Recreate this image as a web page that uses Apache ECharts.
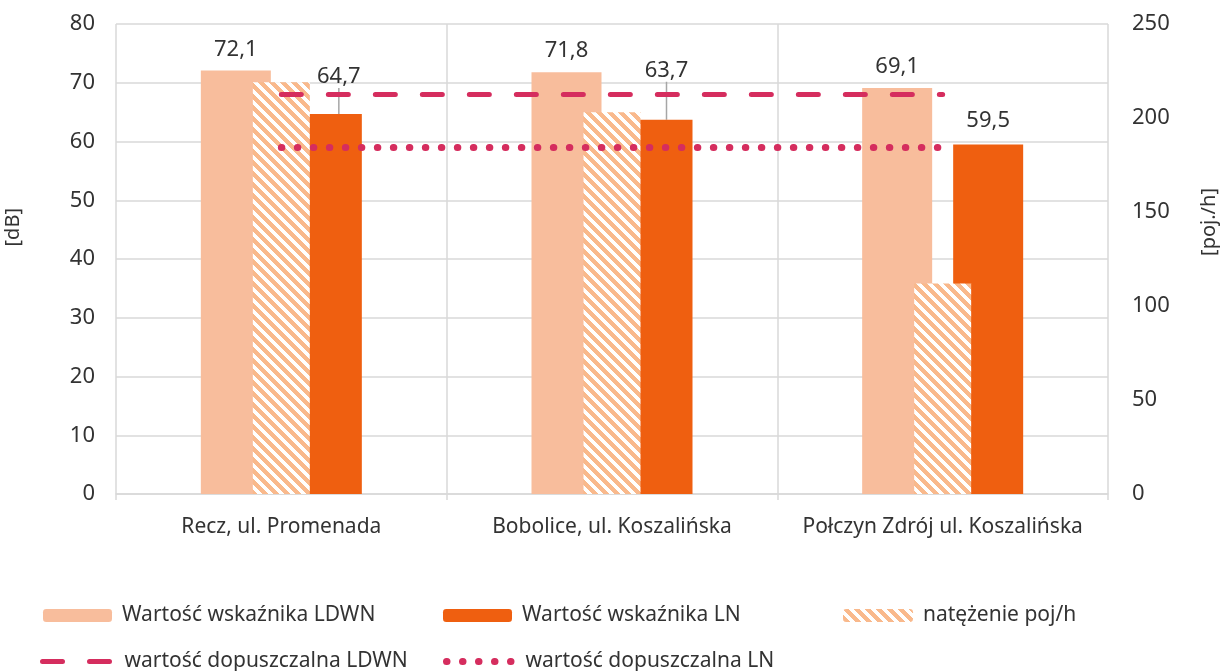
<!DOCTYPE html>
<html>
<head>
<meta charset="utf-8">
<script src="https://cdn.jsdelivr.net/npm/echarts@6/dist/echarts.min.js"></script>
<style>
html,body{margin:0;padding:0;background:#fff;}
#chart{width:1227px;height:671px;}
</style>
</head>
<body>
<div id="chart"></div>
<script>
// ---- data ----
var categories = ['Recz, ul. Promenada', 'Bobolice, ul. Koszalińska', 'Połczyn Zdrój ul. Koszalińska'];
var ldwn = [72.1, 71.8, 69.1];
var ln = [64.7, 63.7, 59.5];
var traffic = [219, 203, 112];
var limitLdwn = [68, 68, 68];
var limitLn = [59, 59, 59];
var leftTicks = {min: 0, max: 80, interval: 10};
var rightTicks = {min: 0, max: 250, interval: 50};
var names = ['Wartość wskaźnika LDWN', 'Wartość wskaźnika LN', 'natężenie poj/h', 'wartość dopuszczalna LDWN', 'wartość dopuszczalna LN'];

// ---- style ----
var FONT = 'Noto Sans';
var TXT = '#333333';
var C_LDWN = '#F8BD9C';
var C_LN = '#EF5F10';
var C_STRIPE = '#F9B98C';
var C_LIMIT = '#D52D5E';
var GRIDC = '#D9D9D9';

// hatch pattern
var P = 11;
var pc = document.createElement('canvas');
pc.width = P; pc.height = P;
var pctx = pc.getContext('2d');
var img = pctx.createImageData(P, P);
function hex(c){return [parseInt(c.substr(1,2),16),parseInt(c.substr(3,2),16),parseInt(c.substr(5,2),16)];}
var sc = hex(C_STRIPE);
for (var y = 0; y < P; y++) {
  for (var x = 0; x < P; x++) {
    var i = (y * P + x) * 4;
    var on = (((x - y) % P) + P) % P < 6;
    img.data[i] = on ? sc[0] : 255;
    img.data[i+1] = on ? sc[1] : 255;
    img.data[i+2] = on ? sc[2] : 255;
    img.data[i+3] = 255;
  }
}
pctx.putImageData(img, 0, 0);
var hatch = {image: pc, repeat: 'repeat'};

function fmt(p){ return p.value.toFixed(1).replace('.', ','); }

var chart = echarts.init(document.getElementById('chart'), null, {renderer: 'canvas'});

function legend(name, left, top, w, h, extra) {
  var l = {
    data: [name], left: left, top: top, padding: 0,
    itemWidth: w, itemHeight: h, selectedMode: false,
    textStyle: {fontFamily: FONT, fontSize: 21, color: TXT, padding: [0, 0, 0, 5]}
  };
  if (extra) for (var k in extra) l[k] = extra[k];
  return l;
}

var lnData = ln.map(function(v, i){
  return i < 2 ? {value: v, labelLine: {show: true}} : {value: v};
});

var option = {
  animation: false,
  backgroundColor: '#fff',
  grid: {left: 116, right: 119, top: 24, bottom: 177, containLabel: false},
  legend: [
    legend(names[0], 43, 605, 69, 13),
    legend(names[1], 443, 605, 69, 13),
    legend(names[2], 843, 605, 70, 13),
    legend(names[3], 40, 651, 72, 14, {
      itemStyle: {opacity: 0},
      lineStyle: {color: C_LIMIT, width: 5, type: [20, 27], cap: 'round'}
    }),
    legend(names[4], 440, 651, 72, 14, {
      itemStyle: {opacity: 0},
      lineStyle: {color: C_LIMIT, width: 7, type: [0.5, 15.5], cap: 'round', dashOffset: -3}
    })
  ],
  xAxis: [{
    type: 'category', data: categories,
    axisLine: {show: true, lineStyle: {color: GRIDC, width: 1.5}},
    axisTick: {show: true, interval: 0, length: 6, lineStyle: {color: GRIDC, width: 1.5}},
    splitLine: {show: true, interval: 0, lineStyle: {color: GRIDC, width: 1.5}},
    axisLabel: {interval: 0, fontFamily: FONT, fontSize: 21, color: TXT, margin: 23}
  }, {
    type: 'category', data: categories, show: false
  }],
  yAxis: [{
    type: 'value', min: leftTicks.min, max: leftTicks.max, interval: leftTicks.interval,
    axisLine: {show: false}, axisTick: {show: false},
    splitLine: {show: true, lineStyle: {color: GRIDC, width: 1.5}},
    axisLabel: {fontFamily: FONT, fontSize: 22, color: TXT, margin: 21}
  }, {
    type: 'value', min: rightTicks.min, max: rightTicks.max, interval: rightTicks.interval,
    position: 'right',
    axisLine: {show: false}, axisTick: {show: false}, splitLine: {show: false},
    axisLabel: {fontFamily: FONT, fontSize: 22, color: TXT, margin: 24}
  }],
  graphic: [
    {type: 'text', left: 3, top: 208, rotation: Math.PI / 2,
     style: {text: '[dB]', fontFamily: FONT, fontSize: 20, fill: TXT}},
    {type: 'text', left: 1199, top: 188, rotation: Math.PI / 2,
     style: {text: '[poj./h]', fontFamily: FONT, fontSize: 20, fill: TXT}}
  ],
  series: [{
    name: names[0], type: 'bar', xAxisIndex: 0, yAxisIndex: 0,
    data: ldwn, barWidth: 70, barGap: '30%',
    itemStyle: {color: C_LDWN},
    label: {show: true, position: 'top', distance: 10, formatter: fmt,
            fontFamily: FONT, fontSize: 22, color: TXT}
  }, {
    name: names[1], type: 'bar', xAxisIndex: 0, yAxisIndex: 0,
    data: lnData, barWidth: 70, barGap: '30%',
    itemStyle: {color: C_LN},
    label: {show: true, position: 'top', distance: 13, formatter: fmt,
            fontFamily: FONT, fontSize: 22, color: TXT},
    labelLine: {show: false, lineStyle: {color: '#A6A6A6', width: 1.5}},
    labelLayout: function (p) {
      if (p.dataIndex === 0) return {dx: 12, dy: -13};
      if (p.dataIndex === 1) return {dx: 9, dy: -25};
      return {};
    }
  }, {
    name: names[2], type: 'bar', xAxisIndex: 1, yAxisIndex: 1,
    data: traffic, barWidth: 57,
    itemStyle: {color: hatch}
  }, {
    name: names[3], type: 'line', xAxisIndex: 0, yAxisIndex: 0,
    data: limitLdwn, symbol: 'none', showSymbol: false,
    lineStyle: {color: C_LIMIT, width: 5, type: [20, 27], cap: 'round'},
    itemStyle: {color: C_LIMIT}
  }, {
    name: names[4], type: 'line', xAxisIndex: 0, yAxisIndex: 0,
    data: limitLn, symbol: 'none', showSymbol: false,
    lineStyle: {color: C_LIMIT, width: 7, type: [0.5, 15.5], cap: 'round'},
    itemStyle: {color: C_LIMIT}
  }]
};
chart.setOption(option);
</script>
</body>
</html>
